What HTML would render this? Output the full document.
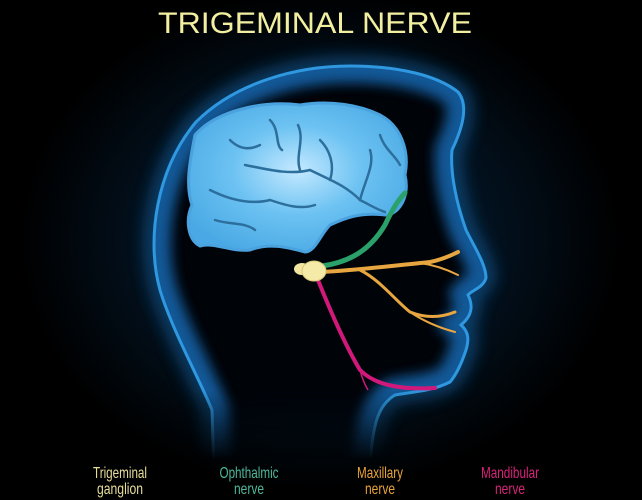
<!DOCTYPE html>
<html><head><style>
html,body{margin:0;padding:0;background:#000;}
svg{display:block}
text{font-family:"Liberation Sans",sans-serif;}
</style></head><body>
<svg width="642" height="500" viewBox="0 0 642 500" xmlns="http://www.w3.org/2000/svg">
<defs>
<radialGradient id="bg" cx="0.5" cy="0.5" r="0.5">
<stop offset="0" stop-color="#083050"/><stop offset="0.6" stop-color="#031424"/><stop offset="1" stop-color="#000"/>
</radialGradient>
<radialGradient id="br" cx="0.5" cy="0.45" r="0.6">
<stop offset="0" stop-color="#c4e9ff"/><stop offset="0.5" stop-color="#6cc2f2"/><stop offset="1" stop-color="#4aa9e4"/>
</radialGradient>
<linearGradient id="fade" x1="0" y1="0" x2="0" y2="1">
<stop offset="0.78" stop-color="#fff"/><stop offset="0.92" stop-color="#000"/>
</linearGradient>
<mask id="m"><rect width="642" height="500" fill="url(#fade)"/></mask>
<path id="hp" d="M214,470 L212,410 C200,380 172,330 160,290 C146,240 156,170 196,122 C236,82 298,66 350,66 C400,66 438,76 458,92 C468,104 464,125 452,150 C450,172 456,202 466,230 C476,250 486,265 486,278 C483,288 472,290 468,295 C473,305 473,315 461,325 C469,332 469,340 466,350 C461,365 456,375 450,382 C430,392 410,392 395,395 C380,404 372,420 370,470"/>
<clipPath id="hc"><use href="#hp"/></clipPath>
<filter id="glow" x="-20%" y="-20%" width="140%" height="140%"><feGaussianBlur stdDeviation="9"/></filter>
<filter id="g2" x="-20%" y="-20%" width="140%" height="140%"><feGaussianBlur stdDeviation="6"/></filter>
</defs>
<rect width="642" height="500" fill="#000"/>
<ellipse cx="320" cy="240" rx="300" ry="250" fill="url(#bg)" opacity="0.8"/>
<g mask="url(#m)">
<use href="#hp" fill="none" stroke="#1670b8" stroke-width="14" filter="url(#glow)" opacity="0.7"/>
<use href="#hp" fill="#000308"/>
<g clip-path="url(#hc)">
<use href="#hp" fill="none" stroke="#1668b0" stroke-width="34" filter="url(#g2)" opacity="0.85"/>
</g>
<use href="#hp" fill="none" stroke="#2f98e0" stroke-width="3"/>
</g>
<path d="M195,135 C215,112 260,100 300,105 C330,100 360,105 380,115 C400,125 410,150 405,175 C410,195 400,215 385,215 C360,212 345,218 330,225 C320,235 315,252 305,252 C290,248 270,242 250,250 C230,252 215,242 200,246 C188,240 185,220 192,205 C185,185 190,160 195,135 Z" fill="url(#br)" stroke="#4aa2df" stroke-width="3"/>
<g fill="none" stroke="#2d6f9c" stroke-width="2.5" stroke-linecap="round">
<path d="M245,165 C270,170 290,175 310,170 C330,180 345,185 360,200 C370,205 378,210 385,212"/>
<path d="M300,170 C295,155 305,140 298,125"/>
<path d="M330,180 C335,165 330,150 320,140"/>
<path d="M210,190 C230,200 250,205 270,200 C285,205 300,210 315,205"/>
<path d="M360,200 C365,180 375,165 370,150"/>
<path d="M230,140 C240,150 250,150 260,145"/>
<path d="M215,220 C230,225 245,222 255,230"/>
<path d="M380,135 C385,150 395,155 400,165"/>
<path d="M270,120 C280,130 275,145 282,150"/>
</g>
<path d="M322,266 C350,262 370,250 385,225 C392,210 398,200 405,193" stroke="#2aa06a" stroke-width="5" fill="none" stroke-linecap="round"/>
<g fill="none" stroke="#e8a640" stroke-linecap="round">
<path d="M322,272 C360,270 400,265 430,262 C440,260 450,256 458,252" stroke-width="4"/>
<path d="M420,263 C435,265 448,270 458,275" stroke-width="2"/>
<path d="M360,270 C380,280 395,300 410,312 C425,318 440,318 455,312" stroke-width="3"/>
<path d="M410,312 C425,322 440,328 455,332" stroke-width="2"/>
</g>
<path d="M318,280 C330,310 345,345 360,370 C375,385 400,390 435,388" stroke="#d0197a" stroke-width="4" fill="none" stroke-linecap="round"/>
<path d="M360,370 C362,378 365,385 368,390" stroke="#d0197a" stroke-width="1.5" fill="none"/>
<ellipse cx="302" cy="269" rx="8" ry="6" fill="#f3e6a0"/>
<ellipse cx="314" cy="271" rx="12" ry="10" fill="#f5eaa8" stroke="#d8c57a" stroke-width="1"/>
<text x="315" y="33" text-anchor="middle" font-size="30" fill="#f3efa0" textLength="314" lengthAdjust="spacingAndGlyphs">TRIGEMINAL NERVE</text>
<g font-size="16" text-anchor="middle">
<text x="120" y="478" fill="#e8df9a" textLength="54" lengthAdjust="spacingAndGlyphs">Trigeminal</text>
<text x="120" y="494" fill="#e8df9a" textLength="46" lengthAdjust="spacingAndGlyphs">ganglion</text>
<text x="249" y="478" fill="#4fb89a" textLength="59" lengthAdjust="spacingAndGlyphs">Ophthalmic</text>
<text x="249" y="494" fill="#4fb89a" textLength="30" lengthAdjust="spacingAndGlyphs">nerve</text>
<text x="380" y="478" fill="#e8a43a" textLength="46" lengthAdjust="spacingAndGlyphs">Maxillary</text>
<text x="380" y="494" fill="#e8a43a" textLength="30" lengthAdjust="spacingAndGlyphs">nerve</text>
<text x="510" y="478" fill="#d8247a" textLength="58" lengthAdjust="spacingAndGlyphs">Mandibular</text>
<text x="510" y="494" fill="#d8247a" textLength="30" lengthAdjust="spacingAndGlyphs">nerve</text>
</g>
</svg>
</body></html>
